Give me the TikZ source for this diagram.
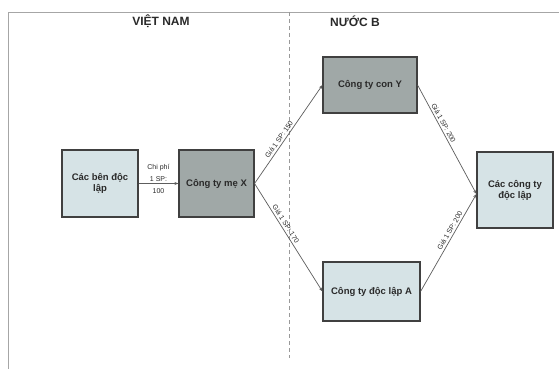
\documentclass[tikz,border=0pt]{standalone}
\usepackage{fontspec}
\setmainfont{Liberation Sans}
\usetikzlibrary{arrows.meta}
\definecolor{lightbox}{HTML}{D6E3E6}
\definecolor{darkbox}{HTML}{A0A8A7}
\definecolor{edgecol}{HTML}{404040}
\definecolor{txt}{HTML}{2A2A2A}
\tikzset{
  entity/.style={draw=edgecol, line width=1.1pt, minimum width=#1, align=center, inner sep=2pt,
    font=\fontsize{9.5}{11}\selectfont\bfseries, text=txt},
  lightent/.style={entity=#1, fill=lightbox},
  darkent/.style={entity=#1, fill=darkbox},
  flow/.style={draw=edgecol!85, line width=0.7pt, -{Stealth[length=4pt,width=3pt]}},
  flowlabel/.style={font=\fontsize{7}{8}\selectfont, text=txt, sloped, inner sep=2pt},
  header/.style={font=\fontsize{12}{14}\selectfont\bfseries, text=txt},
}
\begin{document}
\begin{tikzpicture}[x=1pt,y=-1pt]
\useasboundingbox[fill=white] (0,0) rectangle (559,369);
% frame
\draw[gray!70, line width=0.8pt] (8,369) -- (8,12) -- (559,12);
% divider
\draw[gray!80, line width=0.7pt, dash pattern=on 4pt off 3pt] (289,12) -- (289,358);
% headers
\node[header] (vn) at (161,21) {VIỆT NAM};
\node[header] (nb) at (355,21) {NƯỚC B};
% entities
\node[lightent=76pt, minimum height=67pt] (ben) at (100,183.5) {Các bên độc\\lập};
\node[darkent=75pt, minimum height=67pt] (me) at (216.5,183.5) {Công ty mẹ X};
\node[darkent=94pt, minimum height=56pt] (con) at (370,85) {Công ty con Y};
\node[lightent=97pt, minimum height=59pt] (doc) at (371.5,291.5) {Công ty độc lập A};
\node[lightent=76pt, minimum height=76pt] (cty) at (515,190) {Các công ty\\độc lập};
% flows
\draw[flow] (ben.east) -- node[font=\fontsize{7}{12}\selectfont, text=txt, align=center, yshift=5pt] (l1) {Chi phí\\1 SP:\\100} (me.west);
\draw[flow] (me.east) -- node[flowlabel, above, pos=0.42] (l2) {Giá 1 SP: 150} (con.west);
\draw[flow] (me.east) -- node[flowlabel, above, pos=0.4] (l3) {Giá 1 SP: 170} (doc.west);
\draw[flow] (con.east) -- node[flowlabel, above, pos=0.37] (l4) {Giá 1 SP: 200} ([yshift=-4pt]cty.west);
\draw[flow] (doc.east) -- node[flowlabel, above, pos=0.6] (l5) {Giá 1 SP: 200} ([yshift=-4pt]cty.west);
\end{tikzpicture}
\end{document}
